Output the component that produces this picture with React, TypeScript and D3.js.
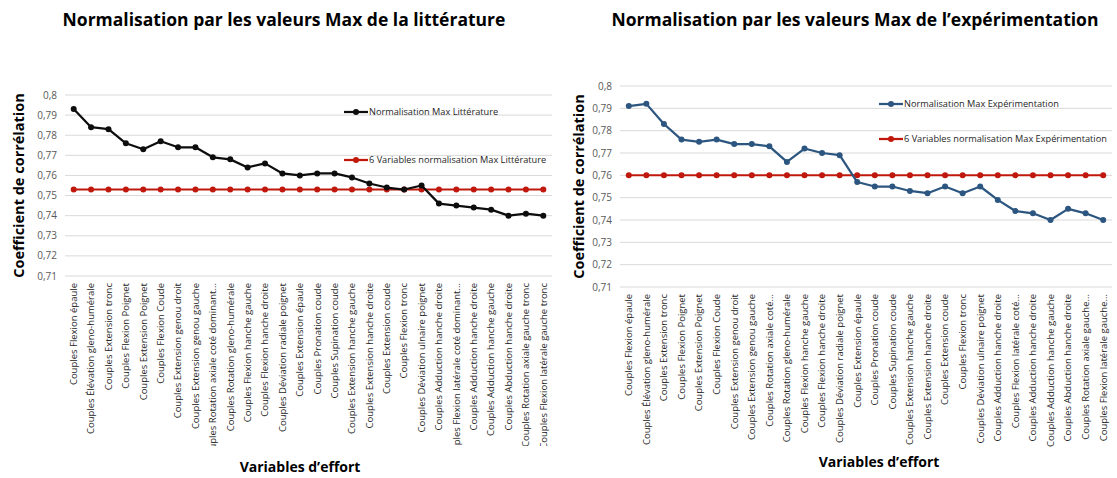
import React, { useRef, useEffect } from "react";
import * as d3 from "d3";

const leftCategories = [
    "Couples Flexion épaule",
    "Couples Élévation gleno-humérale",
    "Couples Extension tronc",
    "Couples Flexion Poignet",
    "Couples Extension Poignet",
    "Couples Flexion Coude",
    "Couples Extension genou droit",
    "Couples Extension genou gauche",
    "Couples Rotation axiale coté dominant...",
    "Couples Rotation gleno-humérale",
    "Couples Flexion hanche gauche",
    "Couples Flexion hanche droite",
    "Couples Déviation radiale poignet",
    "Couples Extension épaule",
    "Couples Pronation coude",
    "Couples Supination coude",
    "Couples Extension hanche gauche",
    "Couples Extension hanche droite",
    "Couples Extension coude",
    "Couples Flexion tronc",
    "Couples Déviation ulnaire poignet",
    "Couples Adduction hanche droite",
    "Couples Flexion latérale coté dominant...",
    "Couples Adduction hanche droite",
    "Couples Adduction hanche gauche",
    "Couples Abduction hanche droite",
    "Couples Rotation axiale gauche tronc",
    "Couples Flexion latérale gauche tronc",
];

const leftValues = [
    0.793, 0.784, 0.783, 0.776, 0.773, 0.777, 0.774, 0.774, 0.769, 0.768,
    0.764, 0.766, 0.761, 0.76, 0.761, 0.761, 0.759, 0.756, 0.754, 0.753,
    0.755, 0.746, 0.745, 0.744, 0.743, 0.74, 0.741, 0.74,
];

const leftRefValues = [
    0.753, 0.753, 0.753, 0.753, 0.753, 0.753, 0.753, 0.753, 0.753, 0.753,
    0.753, 0.753, 0.753, 0.753, 0.753, 0.753, 0.753, 0.753, 0.753, 0.753,
    0.753, 0.753, 0.753, 0.753, 0.753, 0.753, 0.753, 0.753,
];

const rightCategories = [
    "Couples Flexion épaule",
    "Couples Élévation gleno-humérale",
    "Couples Extension tronc",
    "Couples Flexion Poignet",
    "Couples Extension Poignet",
    "Couples Flexion Coude",
    "Couples Extension genou droit",
    "Couples Extension genou gauche",
    "Couples Rotation axiale coté...",
    "Couples Rotation gleno-humérale",
    "Couples Flexion hanche gauche",
    "Couples Flexion hanche droite",
    "Couples Déviation radiale poignet",
    "Couples Extension épaule",
    "Couples Pronation coude",
    "Couples Supination coude",
    "Couples Extension hanche gauche",
    "Couples Extension hanche droite",
    "Couples Extension coude",
    "Couples Flexion tronc",
    "Couples Déviation ulnaire poignet",
    "Couples Adduction hanche droite",
    "Couples Flexion latérale coté...",
    "Couples Adduction hanche droite",
    "Couples Adduction hanche gauche",
    "Couples Abduction hanche droite",
    "Couples Rotation axiale gauche...",
    "Couples Flexion latérale gauche...",
];

const rightValues = [
    0.791, 0.792, 0.783, 0.776, 0.775, 0.776, 0.774, 0.774, 0.773, 0.766,
    0.772, 0.77, 0.769, 0.757, 0.755, 0.755, 0.753, 0.752, 0.755, 0.752,
    0.755, 0.749, 0.744, 0.743, 0.74, 0.745, 0.743, 0.74,
];

const rightRefValues = [
    0.76, 0.76, 0.76, 0.76, 0.76, 0.76, 0.76, 0.76, 0.76, 0.76,
    0.76, 0.76, 0.76, 0.76, 0.76, 0.76, 0.76, 0.76, 0.76, 0.76,
    0.76, 0.76, 0.76, 0.76, 0.76, 0.76, 0.76, 0.76,
];

const yTicks = [0.71, 0.72, 0.73, 0.74, 0.75, 0.76, 0.77, 0.78, 0.79, 0.8];

interface ChartSpec {
    id: string;
    title: string;
    categories: string[];
    values: number[];
    refValues: number[];
    seriesName: string;
    refName: string;
    seriesColor: string;
    box: { left: number; right: number; top: number; bottom: number };
    titleX: number;
    yTitleX: number;
    xTitleX: number;
    xTitleY: number;
    legendX: number;
    legendY: [number, number];
    clipBottom: number;
}

const FONT = "'Open Sans', 'DejaVu Sans', sans-serif";
const REF_COLOR = "#c0180c";

function drawChart(root: d3.Selection<SVGSVGElement, unknown, null, undefined>, spec: ChartSpec) {
    const { left, right, top, bottom } = spec.box;
    const g = root.append("g");

    const x = d3
        .scaleBand<number>()
        .domain(spec.categories.map((_, i) => i))
        .range([left, right]);
    const y = d3.scaleLinear().domain([0.71, 0.8]).range([bottom, top]);
    const cx = (i: number) => (x(i) ?? 0) + x.bandwidth() / 2;

    // titre
    g.append("text")
        .attr("x", spec.titleX)
        .attr("y", 26)
        .attr("text-anchor", "middle")
        .style("font-family", FONT)
        .style("font-weight", "bold")
        .style("font-size", "17.5px")
        .attr("fill", "#000")
        .text(spec.title);

    // grille + graduations
    g.selectAll(".grid")
        .data(yTicks)
        .enter()
        .append("line")
        .attr("x1", left)
        .attr("x2", right)
        .attr("y1", (d) => y(d))
        .attr("y2", (d) => y(d))
        .attr("stroke", "#d9d9d9")
        .attr("stroke-width", 1);

    g.selectAll(".ytick")
        .data(yTicks)
        .enter()
        .append("text")
        .attr("x", left - 8)
        .attr("y", (d) => y(d))
        .attr("dy", "0.35em")
        .attr("text-anchor", "end")
        .style("font-family", FONT)
        .style("font-size", "10px")
        .attr("fill", "#595959")
        .text((d) => String(+d.toFixed(2)).replace(".", ","));

    // libellés des catégories
    const clipId = `clip-${spec.id}`;
    root.append("defs")
        .append("clipPath")
        .attr("id", clipId)
        .append("rect")
        .attr("x", left - 20)
        .attr("y", bottom)
        .attr("width", right - left + 40)
        .attr("height", spec.clipBottom - bottom);

    g.append("g")
        .attr("clip-path", `url(#${clipId})`)
        .selectAll("text")
        .data(spec.categories)
        .enter()
        .append("text")
        .attr("transform", (_, i) => `translate(${cx(i)},${bottom + 7}) rotate(-90)`)
        .attr("dy", "0.35em")
        .attr("text-anchor", "end")
        .style("font-family", FONT)
        .style("font-size", "9.5px")
        .attr("fill", "#262626")
        .text((d) => d);

    // titres des axes
    g.append("text")
        .attr("transform", `translate(${spec.yTitleX},${(top + bottom) / 2}) rotate(-90)`)
        .attr("dy", "0.35em")
        .attr("text-anchor", "middle")
        .style("font-family", FONT)
        .style("font-weight", "bold")
        .style("font-size", "14.5px")
        .attr("fill", "#000")
        .text("Coefficient de corrélation");

    g.append("text")
        .attr("x", spec.xTitleX)
        .attr("y", spec.xTitleY)
        .attr("text-anchor", "middle")
        .style("font-family", FONT)
        .style("font-weight", "bold")
        .style("font-size", "14px")
        .attr("fill", "#000")
        .text("Variables d’effort");

    // séries
    const line = d3
        .line<number>()
        .x((_, i) => cx(i))
        .y((d) => y(d));

    const series = [
        { values: spec.refValues, color: REF_COLOR, width: 2 },
        { values: spec.values, color: spec.seriesColor, width: 2.25 },
    ];

    series.forEach((s) => {
        g.append("path")
            .datum(s.values)
            .attr("d", line)
            .attr("fill", "none")
            .attr("stroke", s.color)
            .attr("stroke-width", s.width)
            .attr("stroke-linejoin", "round");
        g.append("g")
            .selectAll("circle")
            .data(s.values)
            .enter()
            .append("circle")
            .attr("cx", (_, i) => cx(i))
            .attr("cy", (d) => y(d))
            .attr("r", 3)
            .attr("fill", s.color);
    });

    // légende
    const legend = [
        { name: spec.seriesName, color: spec.seriesColor },
        { name: spec.refName, color: REF_COLOR },
    ];
    legend.forEach((l, i) => {
        const ly = spec.legendY[i];
        g.append("line")
            .attr("x1", spec.legendX)
            .attr("x2", spec.legendX + 24)
            .attr("y1", ly)
            .attr("y2", ly)
            .attr("stroke", l.color)
            .attr("stroke-width", 2.25);
        g.append("circle")
            .attr("cx", spec.legendX + 12)
            .attr("cy", ly)
            .attr("r", 3)
            .attr("fill", l.color);
        g.append("text")
            .attr("x", spec.legendX + 25)
            .attr("y", ly)
            .attr("dy", "0.35em")
            .style("font-family", FONT)
            .style("font-size", "9.2px")
            .attr("fill", "#262626")
            .text(l.name);
    });
}

const App: React.FC = () => {
    const svgRef = useRef<SVGSVGElement | null>(null);

    useEffect(() => {
        if (!svgRef.current) return;
        const svg = d3.select(svgRef.current);
        svg.selectAll("*").remove();

        drawChart(svg, {
            id: "lit",
            title: "Normalisation par les valeurs Max de la littérature",
            categories: leftCategories,
            values: leftValues,
            refValues: leftRefValues,
            seriesName: "Normalisation Max Littérature",
            refName: "6 Variables normalisation Max Littérature",
            seriesColor: "#0d0d0d",
            box: { left: 65, right: 552, top: 95, bottom: 276 },
            titleX: 284,
            yTitleX: 19,
            xTitleX: 300,
            xTitleY: 472,
            legendX: 344,
            legendY: [112, 160],
            clipBottom: 446,
        });

        drawChart(svg, {
            id: "exp",
            title: "Normalisation par les valeurs Max de l’expérimentation",
            categories: rightCategories,
            values: rightValues,
            refValues: rightRefValues,
            seriesName: "Normalisation Max Expérimentation",
            refName: "6 Variables normalisation Max Expérimentation",
            seriesColor: "#2c5680",
            box: { left: 620, right: 1112, top: 86, bottom: 287 },
            titleX: 855,
            yTitleX: 579,
            xTitleX: 879,
            xTitleY: 467,
            legendX: 879,
            legendY: [104, 139],
            clipBottom: 470,
        });
    }, []);

    return (
        <svg
            ref={svgRef}
            width={1117}
            height={478}
            style={{ position: "absolute", left: 0, top: 0, background: "#fff" }}
        />
    );
};

export default App;
